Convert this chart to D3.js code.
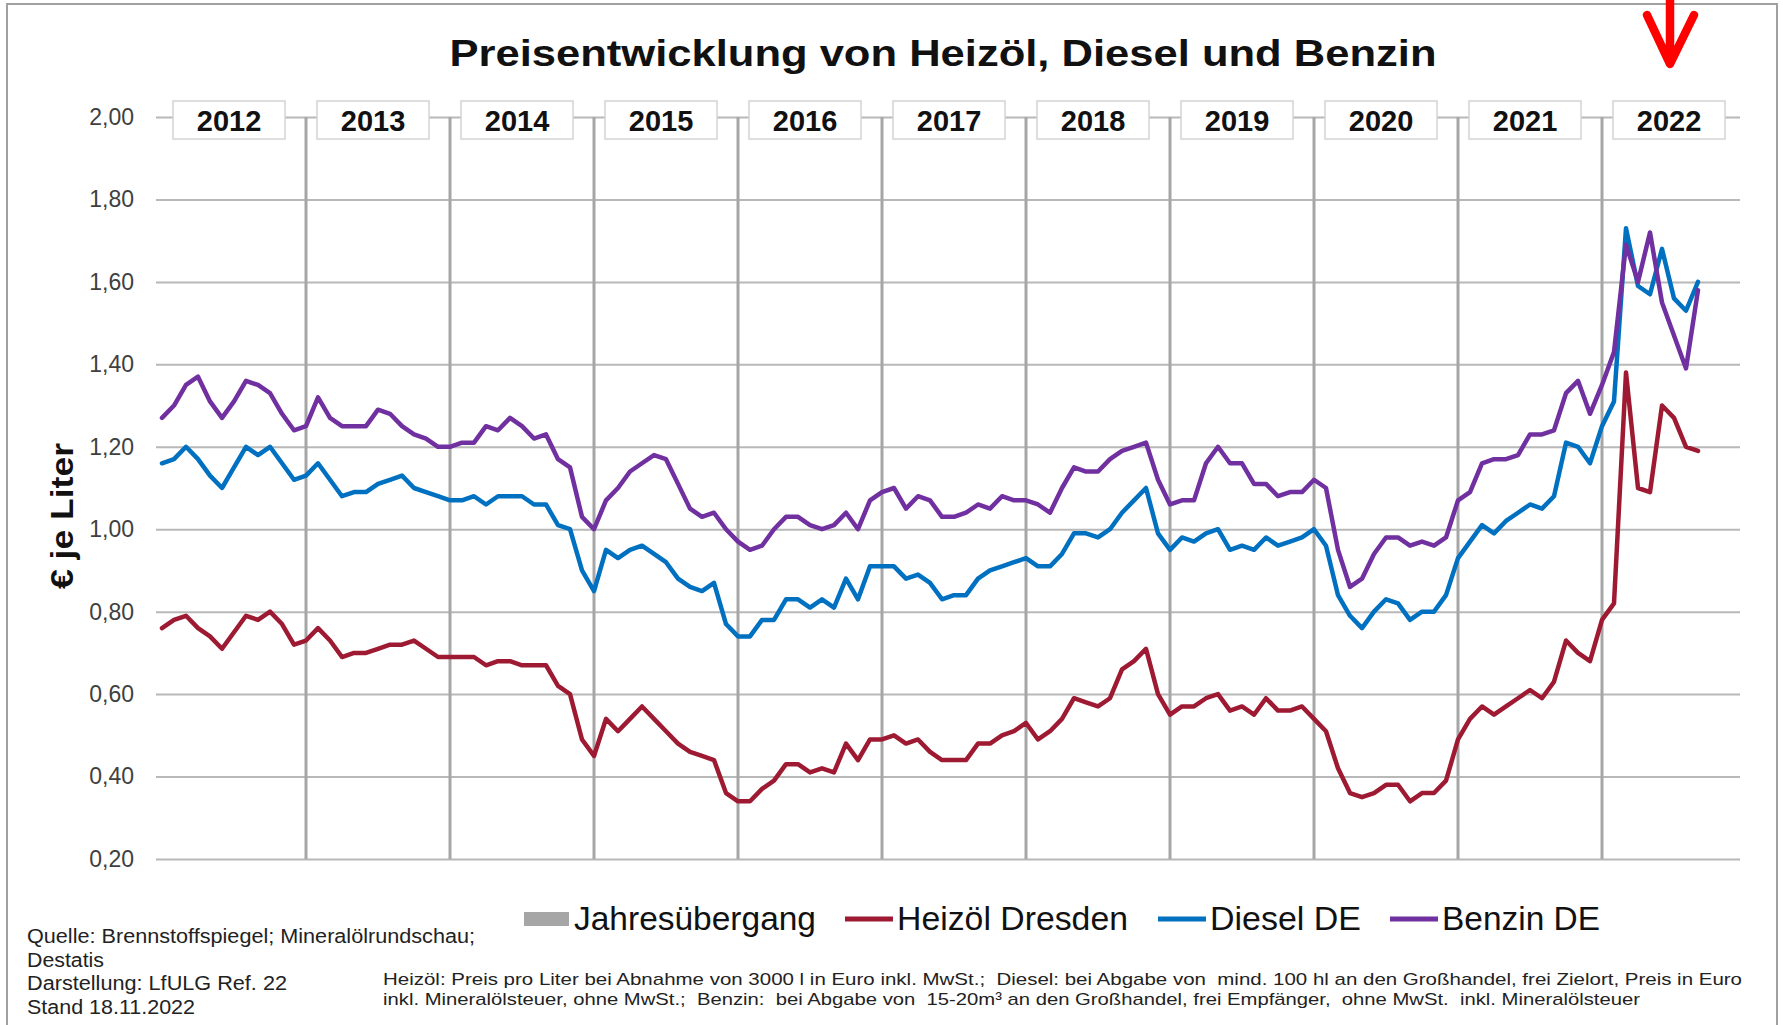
<!DOCTYPE html>
<html>
<head>
<meta charset="utf-8">
<script src="https://cdn.jsdelivr.net/npm/d3@7"></script>
<style>
  body { margin: 0; background: #fff; }
  svg { display: block; }
  text { font-family: "Liberation Sans", Arial, sans-serif; }
</style>
</head>
<body>
<svg id="chart" width="1783" height="1025"></svg>
<script>
// ---- data (monthly, Jan 2012 .. Sep 2022) ----
const years = ["2012","2013","2014","2015","2016","2017","2018","2019","2020","2021","2022"];

const heizoel = [
  0.76,0.78,0.79,0.76,0.74,0.71,0.75,0.79,0.78,0.80,0.77,0.72,
  0.73,0.76,0.73,0.69,0.70,0.70,0.71,0.72,0.72,0.73,0.71,0.69,
  0.69,0.69,0.69,0.67,0.68,0.68,0.67,0.67,0.67,0.62,0.60,0.49,
  0.45,0.54,0.51,0.54,0.57,0.54,0.51,0.48,0.46,0.45,0.44,0.36,
  0.34,0.34,0.37,0.39,0.43,0.43,0.41,0.42,0.41,0.48,0.44,0.49,
  0.49,0.50,0.48,0.49,0.46,0.44,0.44,0.44,0.48,0.48,0.50,0.51,
  0.53,0.49,0.51,0.54,0.59,0.58,0.57,0.59,0.66,0.68,0.71,0.60,
  0.55,0.57,0.57,0.59,0.60,0.56,0.57,0.55,0.59,0.56,0.56,0.57,
  0.54,0.51,0.42,0.36,0.35,0.36,0.38,0.38,0.34,0.36,0.36,0.39,
  0.49,0.54,0.57,0.55,0.57,0.59,0.61,0.59,0.63,0.73,0.70,0.68,
  0.78,0.82,1.38,1.10,1.09,1.30,1.27,1.20,1.19
];

const diesel = [
  1.16,1.17,1.20,1.17,1.13,1.10,1.15,1.20,1.18,1.20,1.16,1.12,
  1.13,1.16,1.12,1.08,1.09,1.09,1.11,1.12,1.13,1.10,1.09,1.08,
  1.07,1.07,1.08,1.06,1.08,1.08,1.08,1.06,1.06,1.01,1.00,0.90,
  0.85,0.95,0.93,0.95,0.96,0.94,0.92,0.88,0.86,0.85,0.87,0.77,
  0.74,0.74,0.78,0.78,0.83,0.83,0.81,0.83,0.81,0.88,0.83,0.91,
  0.91,0.91,0.88,0.89,0.87,0.83,0.84,0.84,0.88,0.90,0.91,0.92,
  0.93,0.91,0.91,0.94,0.99,0.99,0.98,1.00,1.04,1.07,1.10,0.99,
  0.95,0.98,0.97,0.99,1.00,0.95,0.96,0.95,0.98,0.96,0.97,0.98,
  1.00,0.96,0.84,0.79,0.76,0.80,0.83,0.82,0.78,0.80,0.80,0.84,
  0.93,0.97,1.01,0.99,1.02,1.04,1.06,1.05,1.08,1.21,1.20,1.16,
  1.25,1.31,1.73,1.59,1.57,1.68,1.56,1.53,1.60
];

const benzin = [
  1.27,1.30,1.35,1.37,1.31,1.27,1.31,1.36,1.35,1.33,1.28,1.24,
  1.25,1.32,1.27,1.25,1.25,1.25,1.29,1.28,1.25,1.23,1.22,1.20,
  1.20,1.21,1.21,1.25,1.24,1.27,1.25,1.22,1.23,1.17,1.15,1.03,
  1.00,1.07,1.10,1.14,1.16,1.18,1.17,1.11,1.05,1.03,1.04,1.00,
  0.97,0.95,0.96,1.00,1.03,1.03,1.01,1.00,1.01,1.04,1.00,1.07,
  1.09,1.10,1.05,1.08,1.07,1.03,1.03,1.04,1.06,1.05,1.08,1.07,
  1.07,1.06,1.04,1.10,1.15,1.14,1.14,1.17,1.19,1.20,1.21,1.12,
  1.06,1.07,1.07,1.16,1.20,1.16,1.16,1.11,1.11,1.08,1.09,1.09,
  1.12,1.10,0.95,0.86,0.88,0.94,0.98,0.98,0.96,0.97,0.96,0.98,
  1.07,1.09,1.16,1.17,1.17,1.18,1.23,1.23,1.24,1.33,1.36,1.28,
  1.35,1.43,1.69,1.60,1.72,1.55,1.47,1.39,1.58
];

const yTicks = [0.2,0.4,0.6,0.8,1.0,1.2,1.4,1.6,1.8,2.0];

const seriesNames = ["Heizöl Dresden","Diesel DE","Benzin DE"];
const seriesColors = ["#9e1a32","#0070c0","#7030a0"];
const seriesData = [heizoel, diesel, benzin];

// ---- layout ----
const svg = d3.select("#chart");
const plotLeft = 156, plotRight = 1740, plotTop = 117, plotBottom = 859;

const months = years.flatMap(yr => d3.range(1, 13).map(m => yr + "-" + m));

const x = d3.scaleBand().domain(months).range([plotLeft, plotRight]).padding(0);
const bw = x.bandwidth();
const y = d3.scaleLinear().domain([0.2, 2.0]).range([plotBottom, plotTop]);

const de = d3.formatLocale({decimal: ",", thousands: ".", grouping: [3], currency: ["", " €"]});
const fmt = de.format(".2f");

// outer frame
svg.append("rect")
  .attr("x", 7).attr("y", 4).attr("width", 1770).attr("height", 1040)
  .attr("fill", "none").attr("stroke", "#a0a0a0").attr("stroke-width", 2);

// horizontal grid + tick labels
const yAxis = svg.append("g")
  .attr("transform", "translate(" + plotLeft + ",0)")
  .call(d3.axisLeft(y).tickValues(yTicks).tickSize(-(plotRight - plotLeft)).tickPadding(22).tickFormat(fmt));
yAxis.select(".domain").remove();
yAxis.selectAll(".tick line").attr("stroke", "#b8b8b8").attr("stroke-width", 2);
yAxis.selectAll(".tick text")
  .attr("fill", "#404040")
  .style("font-size", "23px")
  .style("font-family", "'Liberation Sans', Arial, sans-serif");

// year transition lines (at January of each year)
svg.append("g").selectAll("line")
  .data(years.slice(1))
  .enter().append("line")
    .attr("x1", d => x(d + "-1") + bw / 2)
    .attr("x2", d => x(d + "-1") + bw / 2)
    .attr("y1", y(2.0))
    .attr("y2", y(0.2))
    .attr("stroke", "#a6a6a6")
    .attr("stroke-width", 3);

// price lines
const line = d3.line()
  .x((d, i) => x(months[i]) + bw / 2)
  .y(d => y(d));

svg.append("g").selectAll("path")
  .data(seriesData)
  .enter().append("path")
    .attr("d", line)
    .attr("fill", "none")
    .attr("stroke", (d, i) => seriesColors[i])
    .attr("stroke-width", 4.5)
    .attr("stroke-linejoin", "round")
    .attr("stroke-linecap", "round");

// year boxes on top of the 2,00 line
const yearG = svg.append("g").selectAll("g")
  .data(years)
  .enter().append("g")
    .attr("transform", d => "translate(" + (x(d + "-6") + bw + 1) + "," + 120 + ")");

yearG.append("rect")
  .attr("x", -56).attr("y", -19).attr("width", 112).attr("height", 38)
  .attr("fill", "#fff").attr("stroke", "#d4d4d4").attr("stroke-width", 1.5);

yearG.append("text")
  .attr("text-anchor", "middle")
  .attr("y", 11)
  .style("font-size", "29px")
  .style("font-weight", "bold")
  .attr("fill", "#111")
  .text(d => d);

// title
svg.append("text")
  .attr("x", 943).attr("y", 66)
  .attr("text-anchor", "middle")
  .attr("textLength", 987).attr("lengthAdjust", "spacingAndGlyphs")
  .style("font-size", "37px").style("font-weight", "bold")
  .attr("fill", "#111")
  .text("Preisentwicklung von Heizöl, Diesel und Benzin");

// y axis title
svg.append("text")
  .attr("transform", "translate(73,516)rotate(-90)")
  .attr("text-anchor", "middle")
  .attr("textLength", 146).attr("lengthAdjust", "spacingAndGlyphs")
  .style("font-size", "31px").style("font-weight", "bold")
  .attr("fill", "#111")
  .text("€ je Liter");

// red arrow
svg.append("path")
  .attr("d", "M1670,0 L1670,62 M1647,15 L1670,64 L1694,15")
  .attr("fill", "none")
  .attr("stroke", "#ff0000")
  .attr("stroke-width", 8.5)
  .attr("stroke-linecap", "round")
  .attr("stroke-linejoin", "round");

// legend
const legendY = 919;
svg.append("rect")
  .attr("x", 524).attr("y", legendY - 7).attr("width", 45).attr("height", 14)
  .attr("fill", "#a6a6a6");
svg.append("text")
  .attr("x", 574).attr("y", legendY + 11)
  .attr("textLength", 242).attr("lengthAdjust", "spacingAndGlyphs")
  .style("font-size", "33px").attr("fill", "#111")
  .text("Jahresübergang");

const legendX = [845, 1158, 1390];
const legendW = [231, 151, 158];
seriesNames.forEach((name, i) => {
  svg.append("line")
    .attr("x1", legendX[i]).attr("x2", legendX[i] + 48)
    .attr("y1", legendY).attr("y2", legendY)
    .attr("stroke", seriesColors[i]).attr("stroke-width", 5);
  svg.append("text")
    .attr("x", legendX[i] + 52).attr("y", legendY + 11)
    .attr("textLength", legendW[i]).attr("lengthAdjust", "spacingAndGlyphs")
    .style("font-size", "33px").attr("fill", "#111")
    .text(name);
});

// source notes
const sourceLines = [
  ["Quelle: Brennstoffspiegel; Mineralölrundschau;", 448],
  ["Destatis", 77],
  ["Darstellung: LfULG Ref. 22", 260],
  ["Stand 18.11.2022", 168]
];
svg.append("g").selectAll("text")
  .data(sourceLines)
  .enter().append("text")
    .attr("x", 27)
    .attr("y", (d, i) => 943 + i * 23.5)
    .attr("textLength", d => d[1]).attr("lengthAdjust", "spacingAndGlyphs")
    .style("font-size", "20px").attr("fill", "#222")
    .text(d => d[0]);

const noteLines = [
  ["Heizöl: Preis pro Liter bei Abnahme von 3000 l in Euro inkl. MwSt.;  Diesel: bei Abgabe von  mind. 100 hl an den Großhandel, frei Zielort, Preis in Euro", 1359],
  ["inkl. Mineralölsteuer, ohne MwSt.;  Benzin:  bei Abgabe von  15-20m³ an den Großhandel, frei Empfänger,  ohne MwSt.  inkl. Mineralölsteuer", 1257]
];
svg.append("g").selectAll("text")
  .data(noteLines)
  .enter().append("text")
    .attr("x", 383)
    .attr("y", (d, i) => 985 + i * 20)
    .attr("textLength", d => d[1]).attr("lengthAdjust", "spacingAndGlyphs")
    .style("font-size", "17px").attr("fill", "#222")
    .style("white-space", "pre")
    .text(d => d[0]);
</script>
</body>
</html>
